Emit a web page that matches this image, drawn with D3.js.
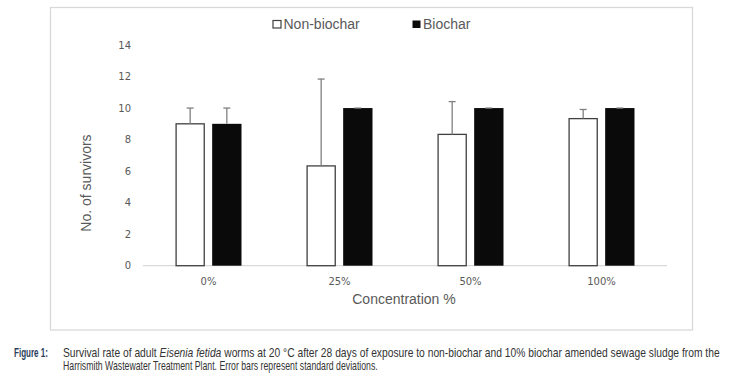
<!DOCTYPE html>
<html>
<head>
<meta charset="utf-8">
<script src="https://cdn.jsdelivr.net/npm/d3@7"></script>
<style>
  html, body { margin: 0; padding: 0; background: #fff; }
  svg { display: block; }
</style>
</head>
<body>
<svg id="chart" width="746" height="383"></svg>
<script>
// data (3 replicates, mean +/- sd)
const concentrations = ["0%", "25%", "50%", "100%"];
const seriesNames = ["Non-biochar", "Biochar"];
const nonBiochar = [9, 6.33, 8.33, 9.33];
const nonBiocharSd = [1, 5.51, 2.08, 0.58];
const biochar = [9, 10, 10, 10];
const biocharSd = [1, 0, 0, 0];
const yTicks = [0, 2, 4, 6, 8, 10, 12, 14];

const svg = d3.select("#chart");

// chart frame
svg.append("rect")
    .attr("x", 50.5).attr("y", 7.5)
    .attr("width", 642).attr("height", 322.5)
    .attr("fill", "#fff").attr("stroke", "#d9d9d9").attr("stroke-width", 1.3);

const x0 = d3.scaleBand().domain(concentrations).range([143, 667]);
const x1 = d3.scaleBand().domain(seriesNames).range([-33, 33]).paddingInner(0.2);
const y = d3.scaleLinear().domain([0, 14]).range([265.7, 45]);

const rows = concentrations.map((c, i) => ({
    c,
    vals: [
        { s: "Non-biochar", v: nonBiochar[i], sd: nonBiocharSd[i] },
        { s: "Biochar", v: biochar[i], sd: biocharSd[i] }
    ]
}));

// y tick labels
svg.append("g")
    .selectAll("text")
    .data(yTicks)
    .join("text")
    .attr("x", 131)
    .attr("y", d => y(d))
    .attr("dy", "0.35em")
    .attr("text-anchor", "end")
    .attr("font-family", "DejaVu Sans, sans-serif")
    .attr("font-size", 10)
    .attr("fill", "#595959")
    .text(d => d);

// axis baseline
svg.append("line")
    .attr("x1", 143).attr("x2", 667)
    .attr("y1", y(0)).attr("y2", y(0))
    .attr("stroke", "#d9d9d9").attr("stroke-width", 1.3);

// bars
const g = svg.append("g");
const groups = g.selectAll("g")
    .data(rows)
    .join("g")
    .attr("transform", d => `translate(${x0(d.c) + x0.bandwidth() / 2},0)`);

groups.selectAll("rect")
    .data(d => d.vals)
    .join("rect")
    .attr("x", d => x1(d.s) + (d.s === "Non-biochar" ? 0.6 : 0))
    .attr("y", d => y(d.v))
    .attr("width", d => x1.bandwidth() - (d.s === "Non-biochar" ? 1.2 : 0))
    .attr("height", d => y(0) - y(d.v))
    .attr("fill", d => d.s === "Non-biochar" ? "#fff" : "#0a0a0a")
    .attr("stroke", d => d.s === "Non-biochar" ? "#404040" : "none")
    .attr("stroke-width", 1.3);

// error bars (upper only)
const err = groups.selectAll("g.err")
    .data(d => d.vals)
    .join("g")
    .attr("class", "err")
    .attr("transform", d => `translate(${x1(d.s) + x1.bandwidth() / 2},0)`);
err.append("line")
    .attr("x1", 0).attr("x2", 0)
    .attr("y1", d => y(d.v)).attr("y2", d => y(d.v + d.sd))
    .attr("stroke", "#808080").attr("stroke-width", 1.3);
err.append("line")
    .attr("x1", -3.5).attr("x2", 3.5)
    .attr("y1", d => y(d.v + d.sd)).attr("y2", d => y(d.v + d.sd))
    .attr("stroke", "#808080").attr("stroke-width", 1.3);

// x tick labels
svg.append("g")
    .selectAll("text")
    .data(concentrations)
    .join("text")
    .attr("x", d => x0(d) + x0.bandwidth() / 2)
    .attr("y", 285)
    .attr("text-anchor", "middle")
    .attr("font-family", "DejaVu Sans, sans-serif")
    .attr("font-size", 10)
    .attr("fill", "#595959")
    .text(d => d);

// axis titles
svg.append("text")
    .attr("x", 404).attr("y", 304)
    .attr("text-anchor", "middle")
    .attr("font-family", "Liberation Sans, Arial, sans-serif")
    .attr("font-size", 14)
    .attr("fill", "#595959")
    .text("Concentration %");

svg.append("text")
    .attr("transform", "translate(91,183) rotate(-90)")
    .attr("text-anchor", "middle")
    .attr("font-family", "Liberation Sans, Arial, sans-serif")
    .attr("font-size", 14)
    .attr("fill", "#595959")
    .text("No. of survivors");

// legend
const legX = [273, 412.5];
const leg = svg.append("g")
    .selectAll("g")
    .data(seriesNames)
    .join("g")
    .attr("transform", (d, i) => `translate(${legX[i]},20.5)`);
leg.append("rect")
    .attr("width", 8).attr("height", 7.5)
    .attr("fill", d => d === "Non-biochar" ? "#fff" : "#0a0a0a")
    .attr("stroke", d => d === "Non-biochar" ? "#404040" : "none")
    .attr("stroke-width", 1.2);
leg.append("text")
    .attr("x", 10.5).attr("y", 8)
    .attr("font-family", "Liberation Sans, Arial, sans-serif")
    .attr("font-size", 14)
    .attr("fill", "#595959")
    .text(d => d);

// caption: condensed face is not available, so squeeze each line horizontally
const capFont = "Liberation Sans, Arial, sans-serif";
const capSize = 12.5;

function captionLine(pieces, x, yPos, width, opts = {}) {
    const line = svg.append("g")
        .attr("font-family", capFont)
        .attr("font-size", capSize);
    let cx = 0;
    pieces.forEach(p => {
        const t = line.append("text")
            .attr("x", cx).attr("y", 0)
            .attr("font-style", p.italic ? "italic" : null)
            .attr("font-weight", opts.bold ? "bold" : null)
            .attr("fill", opts.fill || "#333")
            .attr("xml:space", "preserve")
            .text(p.t);
        cx += t.node().getComputedTextLength();
    });
    line.attr("transform", `translate(${x},${yPos}) scale(${width / cx},1)`);
}

captionLine([{ t: "Figure 1:" }], 14, 357, 34, { bold: true, fill: "#2c3e5c" });
captionLine([
    { t: "Survival rate of adult " },
    { t: "Eisenia fetida", italic: true },
    { t: " worms at 20 °C after 28 days of exposure to non-biochar and 10% biochar amended sewage sludge from the" }
], 63, 357, 657);
captionLine([
    { t: "Harrismith Wastewater Treatment Plant. Error bars represent standard deviations." }
], 63, 370, 315);
</script>
</body>
</html>
